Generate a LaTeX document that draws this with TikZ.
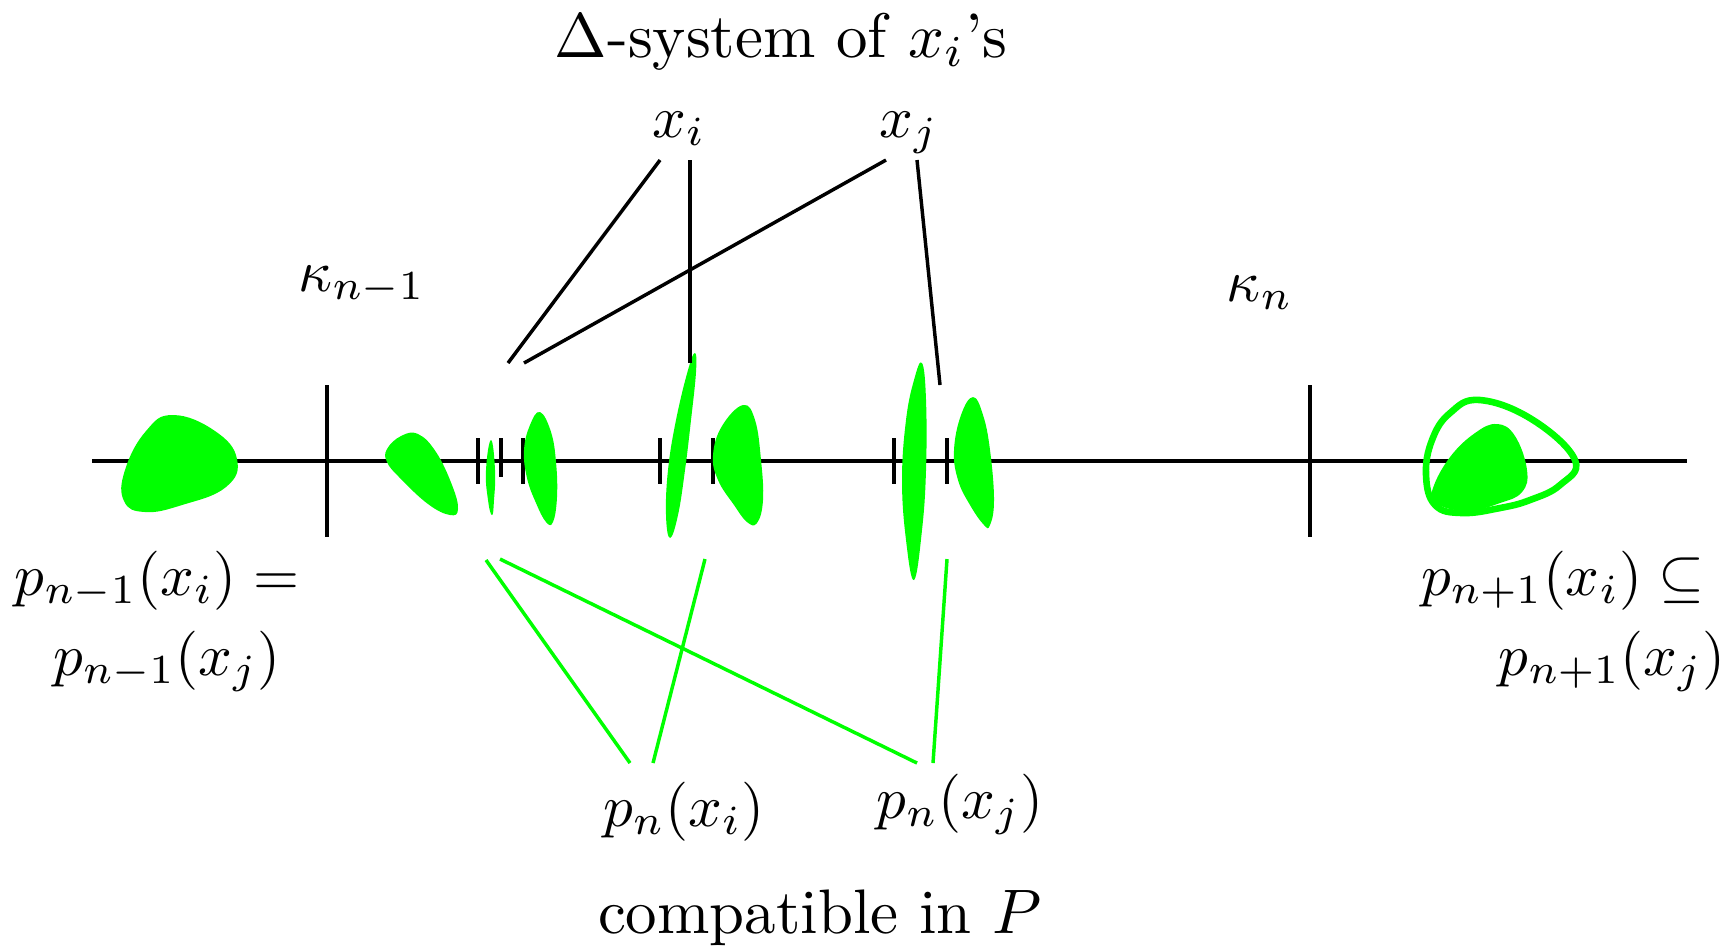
\documentclass[tikz,border=0pt]{standalone}
\usepackage{graphicx}
\definecolor{vgreen}{rgb}{0,1,0}
\newcommand{\mlbl}[1]{\scalebox{0.94}{#1}}
\begin{document}
\begin{tikzpicture}[x=0.159pt,y=-0.159pt]
\tikzset{
  axisline/.style={line width=0.55pt},
  tickmark/.style={line width=0.55pt},
  blob/.style={fill=vgreen, draw=none},
  ring/.style={draw=vgreen, line width=1.05pt},
  blink/.style={black, line width=0.55pt},
  glink/.style={vgreen, line width=0.55pt},
  lbl/.style={anchor=base, inner sep=0pt}
}
\useasboundingbox (0,0) rectangle (1732,948);

% main line
\coordinate (L0) at (92,461);
\coordinate (L1) at (1687,461);
\draw[axisline] (L0) -- (L1);

% big ticks
\draw[tickmark] (327,385) -- (327,537);
\draw[tickmark] (1310,385) -- (1310,537);
% small ticks
\foreach \x/\b in {478/484,501/477,523/484,660/484,713/484,894/484,947/484}
  \draw[tickmark] (\x,438) -- (\x,\b);

% blobs
\fill[blob] plot[smooth cycle, tension=0.75] coordinates {(173,415) (215,431) (237,459) (226,487) (182,505) (145,512) (124,501) (125,470) (146,431)};
\fill[blob] plot[smooth cycle, tension=0.7] coordinates {(387,449) (401,436) (418,434) (436,452) (452,485) (458,509) (450,515) (428,504) (400,478) (387,462)};
\fill[blob] plot[smooth cycle, tension=0.8] coordinates {(491,440) (495,470) (494,500) (492,515) (488,500) (486,470)};
\fill[blob] plot[smooth cycle, tension=0.7] coordinates {(540,412) (551,432) (556,462) (557,497) (553,522) (546,522) (536,503) (527,478) (524,450) (530,425)};
\fill[blob] plot[smooth cycle, tension=0.7] coordinates {(695,353) (696,372) (691,420) (685,470) (678,515) (670,538) (666,515) (668,470) (676,420) (688,370)};
\fill[blob] plot[smooth cycle, tension=0.7] coordinates {(743,405) (755,420) (761,460) (763,500) (757,523) (747,522) (734,505) (718,480) (713,455) (722,426)};
\fill[blob] plot[smooth cycle, tension=0.7] coordinates {(922,363) (926,400) (926,470) (922,530) (914,580) (906,540) (902,480) (906,420) (914,380)};
\fill[blob] plot[smooth cycle, tension=0.7] coordinates {(973,397) (983,415) (990,450) (994,500) (990,525) (984,525) (970,505) (958,480) (954,450) (961,415)};
% right: ring and inner blob
\fill[blob] plot[smooth cycle, tension=0.7] coordinates {(1497,424) (1515,436) (1527,470) (1522,492) (1500,503) (1467,511) (1435,503) (1433,488) (1450,457) (1475,433)};
\draw[ring] plot[smooth cycle, tension=0.7] coordinates {(1480,400) (1533,420) (1575,460) (1560,485) (1530,500) (1500,508) (1462,513) (1435,505) (1426,475) (1432,440) (1450,413)};

% labels
\node[lbl] (title) at (781,57) {$\Delta$-system of $x_i$'s};
\node[lbl] (xi) at (679,137) {\mlbl{$x_i$}};
\node[lbl] (xj) at (909,137) {\mlbl{$x_j$}};
\node[lbl] (kn1) at (362,291) {\mlbl{$\kappa_{n-1}$}};
\node[lbl] (kn) at (1260,301) {\mlbl{$\kappa_n$}};
\node[lbl] (pl1) at (157,595) {\mlbl{$p_{n-1}(x_i) =$}};
\node[lbl] (pl2) at (167,675) {\mlbl{$p_{n-1}(x_j)$}};
\node[lbl] (pr1) at (1563,595) {\mlbl{$p_{n+1}(x_i) \subseteq$}};
\node[lbl] (pr2) at (1612,675) {\mlbl{$p_{n+1}(x_j)$}};
\node[lbl] (pni) at (684,826) {\mlbl{$p_n(x_i)$}};
\node[lbl] (pnj) at (960,818) {\mlbl{$p_n(x_j)$}};
\node[lbl] (compat) at (820,933) {compatible in $P$};

% black connector ends
\coordinate (xiA) at (660,160);
\coordinate (xiB) at (690,160);
\coordinate (xjA) at (886,160);
\coordinate (xjB) at (917,160);
\coordinate (tA) at (508,363);
\coordinate (tB) at (690,363);
\coordinate (tC) at (524,363);
\coordinate (tD) at (940,385);
\draw[blink] (xiA) -- (tA);
\draw[blink] (xiB) -- (tB);
\draw[blink] (xjA) -- (tC);
\draw[blink] (xjB) -- (tD);

% green connector ends
\coordinate (gA) at (486,560);
\coordinate (gB) at (500,559);
\coordinate (gC) at (705,559);
\coordinate (gD) at (947,559);
\coordinate (piA) at (630,763);
\coordinate (piB) at (653,763);
\coordinate (pjA) at (917,763);
\coordinate (pjB) at (933,763);
\draw[glink] (gA) -- (piA);
\draw[glink] (gC) -- (piB);
\draw[glink] (gB) -- (pjA);
\draw[glink] (gD) -- (pjB);
\end{tikzpicture}
\end{document}
